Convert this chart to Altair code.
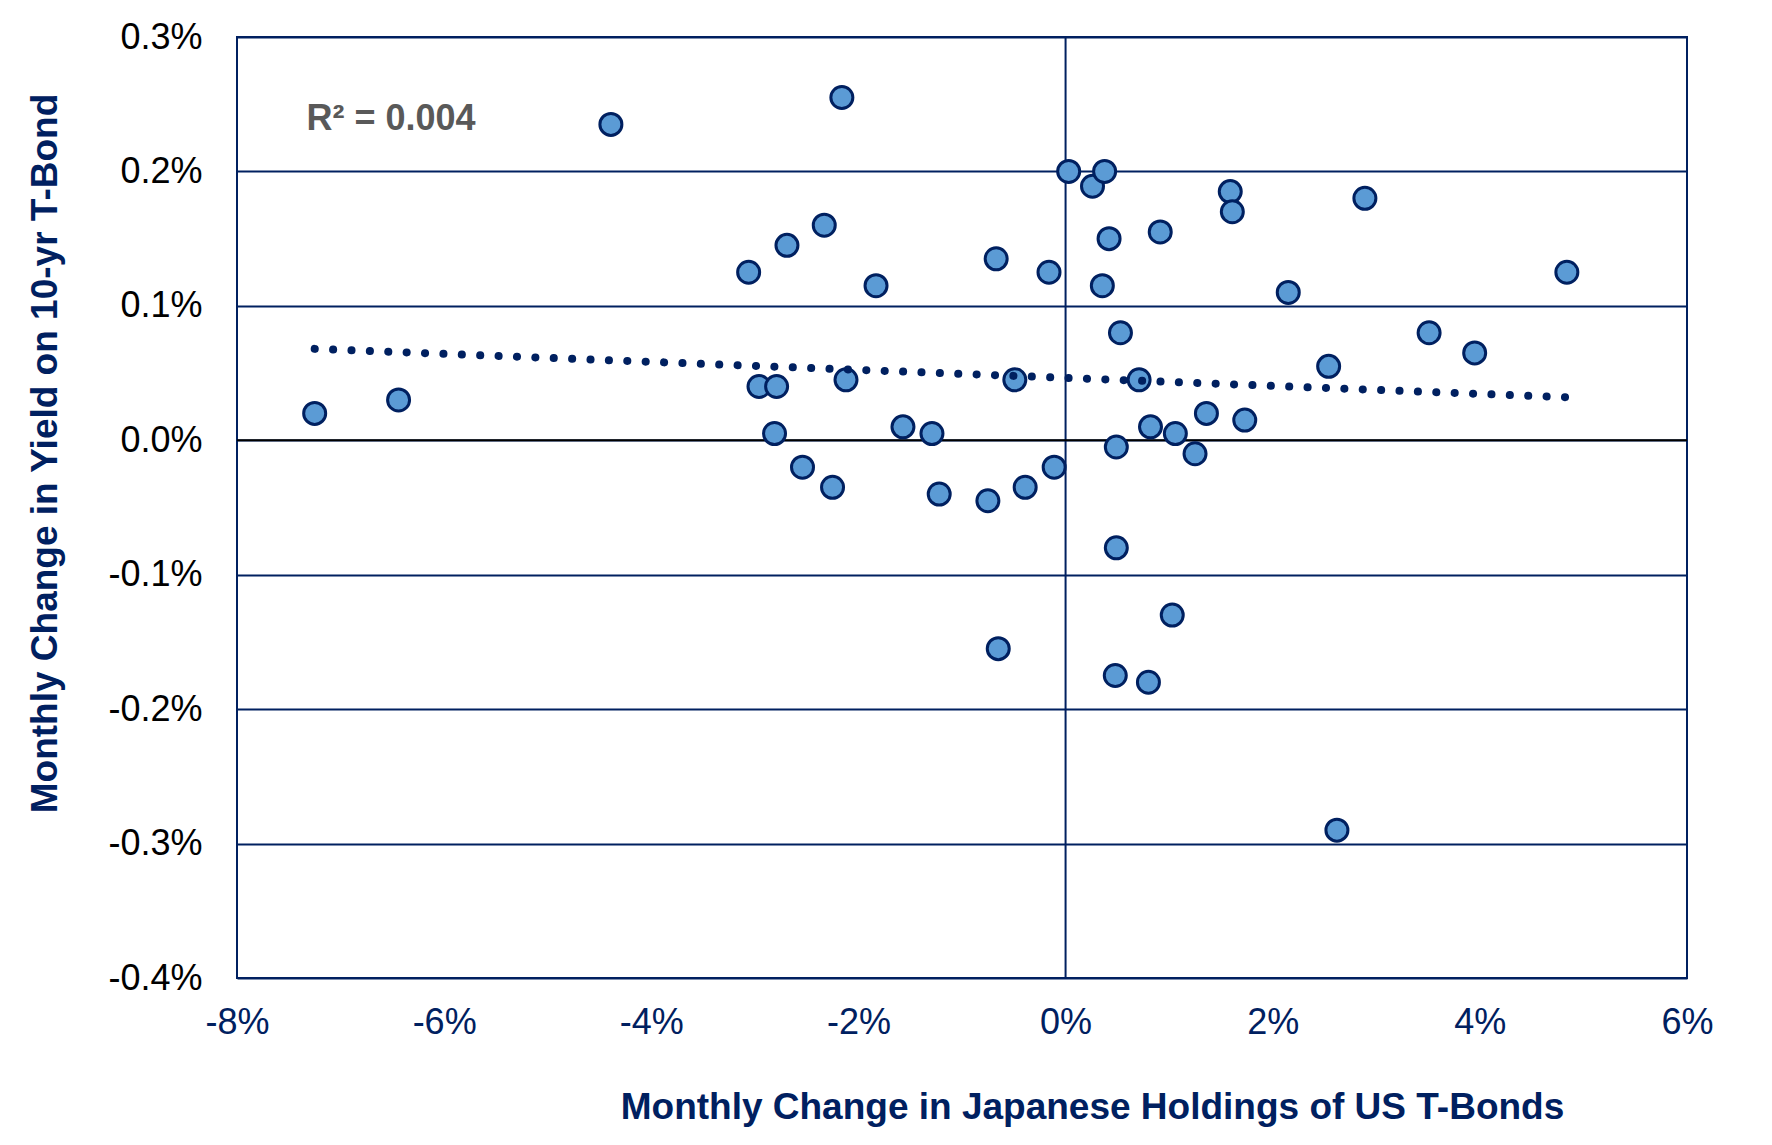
import altair as alt
import pandas as pd

# Monthly change in Japanese holdings of US T-Bonds (%)
holdings_change = [
    -7.25, -6.44, -4.39, -2.16, -3.06, -2.69, -2.33, -1.83, -2.96, -2.79,
    -2.81, -2.54, -2.25, -2.12, -1.57, -1.29, -1.22, -0.75, -0.67, -0.49,
    -0.39, -0.16, -0.11, 0.03, 0.26, 0.377, 0.42, 0.355, 0.53, 0.71,
    0.49, 0.49, 0.914, 0.82, 1.06, 1.25, 1.36, 1.73, 1.59, 1.61,
    2.15, 2.54, 2.89, 3.51, 3.95, 4.84, 2.62, 0.80, 0.48, 1.03, -0.65,
]
# Monthly change in yield on 10-yr T-Bond (%)
yield_change = [
    0.020, 0.030, 0.235, 0.255, 0.125, 0.145, 0.160, 0.115, 0.040, 0.040,
    0.005, -0.020, -0.035, 0.045, 0.010, 0.005, -0.040, -0.045, 0.135, 0.045,
    -0.035, 0.125, -0.020, 0.200, 0.189, 0.200, 0.150, 0.115, 0.080, 0.045,
    -0.005, -0.080, 0.155, 0.010, 0.005, -0.010, 0.020, 0.015, 0.185, 0.170,
    0.110, 0.055, 0.180, 0.080, 0.065, 0.125, -0.290, -0.180, -0.175, -0.130, -0.155,
]

# Linear trend line end points (as drawn)
trend_x = [-7.25, 4.84]
trend_y = [0.068, 0.032]

# Annotation
r2_text = ["R² = 0.004"]
r2_x = [-7.33]
r2_y = [0.2308]

x_ticks = [-8, -6, -4, -2, 0, 2, 4, 6]
y_ticks = [-0.4, -0.3, -0.2, -0.1, 0.0, 0.1, 0.2, 0.3]

NAVY = "#002060"
FONT = "Liberation Sans"

pts = pd.DataFrame({"x": holdings_change, "y": yield_change})
trend = pd.DataFrame({"x": trend_x, "y": trend_y})
ann = pd.DataFrame({"t": r2_text, "x": r2_x, "y": r2_y})
zero = pd.DataFrame({"v": [0.0]})

xscale = alt.Scale(domain=[-8, 6], nice=False, zero=False)
yscale = alt.Scale(domain=[-0.4, 0.3], nice=False, zero=False)

xaxis = alt.Axis(
    title="Monthly Change in Japanese Holdings of US T-Bonds",
    values=x_ticks,
    labelExpr="datum.value + '%'",
    grid=False, domain=False, ticks=False, tickSize=0,
    labelFont=FONT, labelFontSize=36, labelColor=NAVY, labelFlush=False,
    labelBaseline="alphabetic", labelPadding=55, labelOverlap=False,
    titleFont=FONT, titleFontSize=37, titleFontWeight="bold", titleColor=NAVY,
    titleAnchor="start", titleAlign="center", titleBaseline="alphabetic",
    titleX=855, titleY=140,
)
yaxis = alt.Axis(
    title="Monthly Change in Yield on 10-yr T-Bond",
    values=y_ticks,
    labelExpr="(datum.value < -0.00001 ? '-' : '') + format(abs(datum.value), '.1f') + '%'",
    grid=True, gridColor=NAVY, gridWidth=2, gridOpacity=1,
    domain=False, ticks=False, tickSize=0,
    labelFont=FONT, labelFontSize=36, labelColor="black", labelFlush=False,
    labelBaseline="middle", labelPadding=35, labelOverlap=False,
    titleFont=FONT, titleFontSize=37, titleFontWeight="bold", titleColor=NAVY,
    titleAngle=270, titleAlign="center", titleBaseline="alphabetic",
    titleX=-181, titleY=416,
)

base_pts = alt.Chart(pts).mark_point(
    shape="circle", filled=True, size=484, fill="#5B9BD5",
    stroke=NAVY, strokeWidth=3, opacity=1,
).encode(
    x=alt.X("x:Q", scale=xscale, axis=xaxis),
    y=alt.Y("y:Q", scale=yscale, axis=yaxis),
)

vline = alt.Chart(zero).mark_rule(color=NAVY, strokeWidth=2).encode(
    x=alt.X("v:Q", scale=xscale)
)
hline = alt.Chart(zero).mark_rule(color="black", strokeWidth=2).encode(
    y=alt.Y("v:Q", scale=yscale)
)

trend_line = alt.Chart(trend).mark_line(
    color=NAVY, strokeWidth=8, strokeCap="round", strokeDash=[0.1, 18.3]
).encode(
    x=alt.X("x:Q", scale=xscale),
    y=alt.Y("y:Q", scale=yscale),
)

label = alt.Chart(ann).mark_text(
    align="left", baseline="alphabetic", font=FONT, fontSize=36,
    fontWeight="bold", color="#595959",
).encode(
    x=alt.X("x:Q", scale=xscale),
    y=alt.Y("y:Q", scale=yscale),
    text="t:N",
)

chart = alt.layer(vline, hline, base_pts, trend_line, label).properties(
    width=1450, height=941,
    autosize=alt.AutoSizeParams(type="none"),
    padding={"left": 229, "top": 29, "right": 60, "bottom": 150},
    background="white",
).configure_view(stroke=NAVY, strokeWidth=2)

chart.save("out.html", embed_options={"renderer": "svg", "actions": False})
